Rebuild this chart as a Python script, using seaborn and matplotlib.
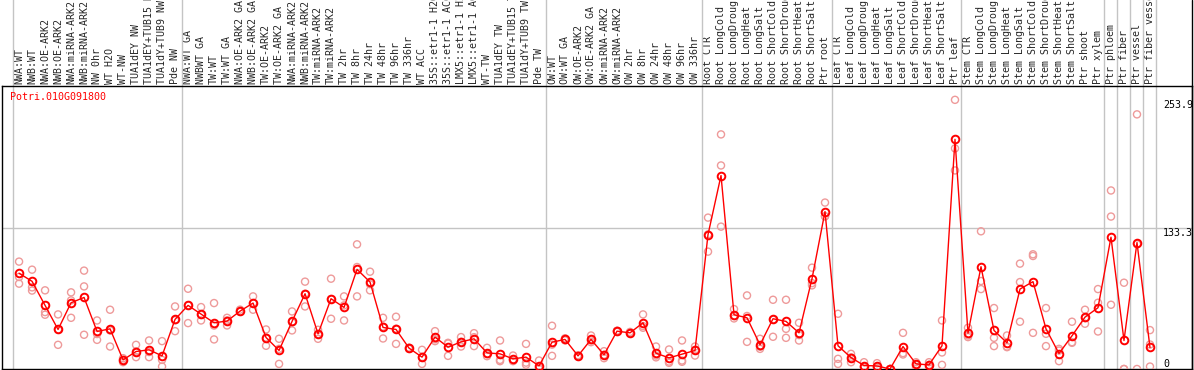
import numpy as np
import pandas as pd
import matplotlib
matplotlib.use('Agg')
import matplotlib.pyplot as plt
from matplotlib.lines import Line2D
import seaborn as sns

gene_id = 'Potri.010G091800'

samples = ['NWA:WT', 'NWB:WT', 'NWA:OE-ARK2', 'NWB:OE-ARK2', 'NWA:miRNA-ARK2', 'NWB:miRNA-ARK2',
           'NW 0hr', 'WT H2O', 'WT-NW', 'TUA1dEY NW', 'TUA1dEY+TUB15 NW', 'TUA1dY+TUB9 NW', 'Pde NW',
           'NWA:WT GA', 'NWBWT GA', 'TW:WT', 'TW:WT GA', 'NWA:OE-ARK2 GA', 'NWB:OE-ARK2 GA',
           'TW:OE-ARK2', 'TW:OE-ARK2 GA', 'NWA:miRNA-ARK2', 'NWB:miRNA-ARK2', 'TW:miRNA-ARK2',
           'TW:miRNA-ARK2', 'TW 2hr', 'TW 8hr', 'TW 24hr', 'TW 48hr', 'TW 96hr', 'TW 336hr', 'WT ACC',
           '35S::etr1-1 H2O', '35S::etr1-1 ACC', 'LMX5::etr1-1 H2O', 'LMX5::etr1-1 ACC', 'WT-TW',
           'TUA1dEY TW', 'TUA1dEY+TUB15 TW', 'TUA1dY+TUB9 TW', 'Pde TW', 'OW:WT', 'OW:WT GA',
           'OW:OE-ARK2', 'OW:OE-ARK2 GA', 'OW:miRNA-ARK2', 'OW:miRNA-ARK2', 'OW 2hr', 'OW 8hr',
           'OW 24hr', 'OW 48hr', 'OW 96hr', 'OW 336hr', 'Root CTR', 'Root LongCold',
           'Root LongDrought', 'Root LongHeat', 'Root LongSalt', 'Root ShortCold',
           'Root ShortDrought', 'Root ShortHeat', 'Root ShortSalt', 'Ptr root', 'Leaf CTR',
           'Leaf LongCold', 'Leaf LongDrought', 'Leaf LongHeat', 'Leaf LongSalt', 'Leaf ShortCold',
           'Leaf ShortDrought', 'Leaf ShortHeat', 'Leaf ShortSalt', 'Ptr leaf', 'Stem CTR',
           'Stem LongCold', 'Stem LongDrought', 'Stem LongHeat', 'Stem LongSalt', 'Stem ShortCold',
           'Stem ShortDrought', 'Stem ShortHeat', 'Stem ShortSalt', 'Ptr shoot', 'Ptr xylem',
           'Ptr phloem', 'Ptr fiber', 'Ptr vessel', 'Ptr fiber vessel']

# mean expression per sample
mean_expr = [90.3, 82.7, 60.0, 37.3, 62.5, 67.5, 35.4, 37.9, 8.6, 16.5,
             18.1, 12.4, 46.8, 60.0, 51.8, 43.6, 45.2, 54.6, 62.2, 29.7,
             17.5, 44.9, 71.0, 33.2, 66.3, 58.1, 94.0, 82.0, 39.2, 37.3,
             19.7, 11.2, 30.1, 20.6, 25.6, 28.5, 15.2, 14.3, 9.6, 11.2,
             2.9, 25.3, 27.9, 12.4, 27.9, 13.4, 35.7, 34.1, 43.6, 14.9,
             10.5, 14.0, 17.5, 126.8, 182.5, 51.2, 48.3, 22.8, 47.4, 44.9,
             34.1, 85.2, 148.5, 21.9, 10.8, 3.3, 2.9, 0.0, 21.2, 4.8,
             3.9, 21.9, 216.6, 33.8, 96.5, 36.4, 24.7, 75.4, 82.4, 37.9,
             14.6, 31.3, 48.9, 57.8, 124.3, 26.9, 119.3, 20.3]

# replicates
rep1 = [101.3, 93.7, 74.2, 51.5, 72.3, 92.8, 45.8, 55.9, 10.2, 22.8,
        26.9, 26.3, 59.0, 75.7, 58.4, 62.2, 48.3, 56.0, 68.5, 37.3,
        28.5, 54.3, 82.4, 37.0, 85.2, 68.5, 117.6, 91.8, 48.3, 49.3,
        20.0, 18.1, 35.7, 24.7, 30.1, 33.8, 20.0, 26.9, 12.7, 23.7,
        8.0, 40.8, 28.0, 12.0, 31.6, 16.8, 36.0, 34.0, 51.5, 21.2,
        18.4, 26.9, 21.2, 142.8, 221.3, 56.5, 69.4, 28.5, 65.3, 65.3,
        43.6, 95.6, 157.0, 52.1, 14.3, 6.4, 5.5, 0.0, 34.1, 6.4,
        6.4, 45.8, 253.9, 38.9, 129.9, 57.5, 31.6, 99.4, 108.2, 57.5,
        19.0, 44.6, 55.9, 75.4, 168.4, 81.4, 240.2, 36.7]
rep2 = [86.8, 77.0, 53.7, 22.8, 64.7, 77.9, 33.0, 36.4, 6.4, 11.2,
        11.2, 8.6, 35.7, 43.3, 45.8, 27.9, 41.1, 54.0, 55.9, 21.9,
        4.8, 36.4, 59.0, 28.5, 47.4, 60.0, 96.2, 74.2, 28.8, 23.7,
        19.0, 4.8, 26.3, 12.4, 21.2, 21.6, 12.1, 8.6, 7.4, 6.0,
        0.0, 12.4, 27.0, 13.0, 25.3, 10.2, 35.0, 35.0, 38.9, 12.7,
        5.8, 8.0, 12.7, 110.7, 192.0, 47.7, 25.6, 19.0, 30.4, 37.9,
        26.9, 78.9, 144.1, 9.6, 6.4, 1.7, 1.1, 0.0, 13.7, 4.0,
        1.7, 15.6, 208.1, 30.1, 83.0, 29.4, 20.6, 82.0, 106.6, 33.2,
        7.4, 24.7, 42.7, 62.5, 143.8, 0.0, 117.7, 23.1]
rep3 = [80.5, 74.0, 51.2, 37.3, 48.3, 32.3, 27.5, 21.2, 8.6, 16.5,
        16.0, 2.3, 46.0, 60.0, 51.0, 41.0, 45.8, 54.0, 62.2, 29.7,
        19.0, 44.0, 71.0, 33.0, 66.0, 45.8, 68.5, 80.0, 40.0, 38.0,
        20.0, 11.0, 28.0, 24.0, 25.6, 30.0, 14.0, 7.4, 9.0, 4.0,
        1.0, 23.0, 29.0, 12.0, 27.0, 13.4, 36.0, 33.5, 40.5, 11.0,
        7.0, 6.8, 18.0, 127.0, 134.3, 50.0, 50.0, 21.0, 46.5, 29.4,
        32.0, 81.0, 144.0, 4.8, 11.0, 2.0, 2.0, 0.0, 15.0, 2.0,
        3.9, 3.9, 187.3, 31.6, 75.4, 21.6, 21.2, 44.6, 34.1, 21.6,
        17.4, 25.3, 48.0, 35.4, 60.6, 0.0, 0.0, 2.3]

group_breaks = [-0.5, 12.5, 40.5, 52.5, 62.5, 72.5, 83.5, 84.5, 85.5, 86.5, 87.5]
y_marks = [0, 133.3, 253.9]
y_mark_labels = ['0', '133.3', '253.9']

sns.set_style('white')
plt.rcParams['font.family'] = ['DejaVu Sans Mono']

fig = plt.figure(figsize=(11.94, 3.70), dpi=100)
ax = fig.add_axes([0.0017, 0.0027, 0.9966, 0.765])

pos = np.arange(len(samples))
reps_df = pd.DataFrame({'pos': np.tile(pos, 3), 'value': rep1 + rep2 + rep3})

sns.scatterplot(data=reps_df, x='pos', y='value', ax=ax, marker='o', s=26,
                color='#ee9a9a', linewidth=1.0, zorder=3, legend=False)
for coll in ax.collections:
    coll.set_facecolor('none')
    coll.set_edgecolor('#ee9a9a')

sns.lineplot(x=pos, y=mean_expr, ax=ax, color='red', lw=1.0, marker='o',
             markersize=5.5, markerfacecolor='none', markeredgecolor='red',
             markeredgewidth=1.4, zorder=4)

ax.set_xlim(-1.31, 90.23)
ax.set_ylim(0, 267)

# group separators run up through the label area
for b in group_breaks:
    ax.axvline(b, ymin=0, ymax=1.31, color='#c4c4c4', lw=1, clip_on=False, zorder=1)
ax.axhline(133.3, color='#c4c4c4', lw=1, zorder=1)

ax.xaxis.tick_top()
ax.set_xticks(pos)
ax.set_xticklabels(samples, rotation=90, fontsize=7.2)
ax.tick_params(axis='x', length=0, pad=1.5)
ax.set_yticks([])
ax.set_xlabel('')
ax.set_ylabel('')

for v, t in zip(y_marks, y_mark_labels):
    ax.text(0.9756, v, t, transform=ax.get_yaxis_transform(), fontsize=7.2,
            va='bottom' if v == 0 else 'top', ha='left', color='black')

ax.text(0.0067, 0.961, gene_id, transform=ax.transAxes, color='red',
        fontsize=7.2, va='center', ha='left')

for side in ['left', 'right', 'top', 'bottom']:
    ax.spines[side].set_color('black')
    ax.spines[side].set_linewidth(1.0)

fig.add_artist(Line2D([0.9983, 0.9983], [0, 1], transform=fig.transFigure,
                      color='black', lw=1.0))

fig.savefig('out.png', dpi=100)
